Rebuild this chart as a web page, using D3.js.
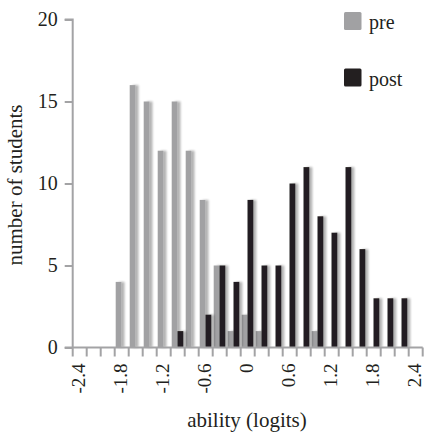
<!DOCTYPE html>
<html><head><meta charset="utf-8">
<script src="https://cdn.jsdelivr.net/npm/d3@7"></script>
<style>
html,body{margin:0;padding:0;background:#fff;}
svg{display:block;font-family:"Liberation Serif","Times New Roman",serif;}
</style></head>
<body>
<svg id="chart" width="424" height="436"></svg>
<script>
const categories = ["-2.4","-2.2","-2.0","-1.8","-1.6","-1.4","-1.2","-1.0","-0.8","-0.6","-0.4","-0.2","0","0.2","0.4","0.6","0.8","1.0","1.2","1.4","1.6","1.8","2.0","2.2","2.4"];
const tickLabels = ["-2.4","-1.8","-1.2","-0.6","0","0.6","1.2","1.8","2.4"];
const preValues  = [0,0,0,4,16,15,12,15,12,9,5,1,2,1,0,0,0,1,0,0,0,0,0,0,0];
const postValues = [0,0,0,0,0,0,0,1,0,2,5,4,9,5,5,10,11,8,7,11,6,3,3,3,0];
const seriesNames = ["pre","post"];
const yTicks = [0,5,10,15,20];

const colors = {pre:"#a1a1a3", post:"#231f20"};
const axisColor = "#a3a3a5";

const svg = d3.select("#chart");
const defs = svg.append("defs");
const f = defs.append("filter").attr("id","shadow").attr("x","-50%").attr("y","-10%").attr("width","200%").attr("height","120%");
f.append("feGaussianBlur").attr("in","SourceAlpha").attr("stdDeviation",1.3).attr("result","b");
f.append("feOffset").attr("in","b").attr("dx",2.8).attr("dy",0).attr("result","o");
f.append("feComponentTransfer").attr("in","o").attr("result","s")
  .append("feFuncA").attr("type","linear").attr("slope",0.3);
const m = f.append("feMerge");
m.append("feMergeNode").attr("in","s");
m.append("feMergeNode").attr("in","SourceGraphic");

const x0 = 72.7, x1 = 422.7, yBase = 347.5, yTop = 19.5;
const x = d3.scaleBand().domain(categories).range([x0, x1]).padding(0);
const xs = d3.scaleBand().domain(seriesNames).range([1, 12.6]).padding(0);
const y = d3.scaleLinear().domain([0,20]).range([yBase, yTop]);

const data = categories.map((c,i)=>({cat:c, pre:preValues[i], post:postValues[i]}));

// bars
seriesNames.forEach(s=>{
  svg.append("g").attr("filter","url(#shadow)")
    .selectAll("rect").data(data.filter(d=>d[s]>0)).join("rect")
    .attr("x", d=>x(d.cat)+xs(s))
    .attr("width", xs.bandwidth())
    .attr("y", d=>y(d[s]))
    .attr("height", d=>y(0)-y(d[s]))
    .attr("fill", colors[s]);
});

// y axis
const yAxis = svg.append("g").attr("transform",`translate(${x0},0)`)
  .call(d3.axisLeft(y).tickValues(yTicks).tickSize(8).tickPadding(6).tickFormat(d3.format("d")));
yAxis.select(".domain").attr("stroke",axisColor).attr("stroke-width",2).attr("d",`M-8,${yTop}H0V${yBase}`);
yAxis.selectAll(".tick line").attr("stroke",axisColor).attr("stroke-width",2);
yAxis.selectAll(".tick text").attr("fill","#231f20").attr("font-size",20).attr("font-family","Liberation Serif").attr("x",-15);

// x axis
const xAxis = svg.append("g").attr("transform",`translate(0,${yBase})`)
  .call(d3.axisBottom(x).tickSize(0).tickFormat(d=>tickLabels.includes(d)?d:""));
xAxis.select(".domain").attr("stroke",axisColor).attr("stroke-width",2).attr("d",`M${x0-8},0H${x1}`);
// boundary ticks
xAxis.selectAll(".bt").data(categories.concat(["end"])).join("line").attr("class","bt")
  .attr("x1",(d,i)=>x0 + i*x.step()).attr("x2",(d,i)=>x0 + i*x.step())
  .attr("y1",0).attr("y2",9).attr("stroke",axisColor).attr("stroke-width",2);
xAxis.selectAll(".tick text")
  .attr("fill","#231f20").attr("font-size",19).attr("font-family","Liberation Serif")
  .attr("transform","rotate(-90)").attr("text-anchor","end")
  .attr("x",-16).attr("y",-1).attr("dy","0.32em");

// axis titles
svg.append("text").attr("x",247).attr("y",427).attr("text-anchor","middle")
  .attr("font-size",21).attr("fill","#231f20").text("ability (logits)");
svg.append("text").attr("transform","translate(22,185) rotate(-90)").attr("text-anchor","middle")
  .attr("font-size",21).attr("fill","#231f20").text("number of students");

// legend
const legend = svg.append("g");
const legY = {pre:12, post:68.5};
seriesNames.forEach(s=>{
  legend.append("rect").attr("x",344).attr("y",legY[s]).attr("width",17.5).attr("height",18).attr("rx",1.5).attr("fill",colors[s]);
  legend.append("text").attr("x",369).attr("y",legY[s]+17).attr("font-size",20).attr("fill","#231f20").text(s);
});
</script>
</body></html>
